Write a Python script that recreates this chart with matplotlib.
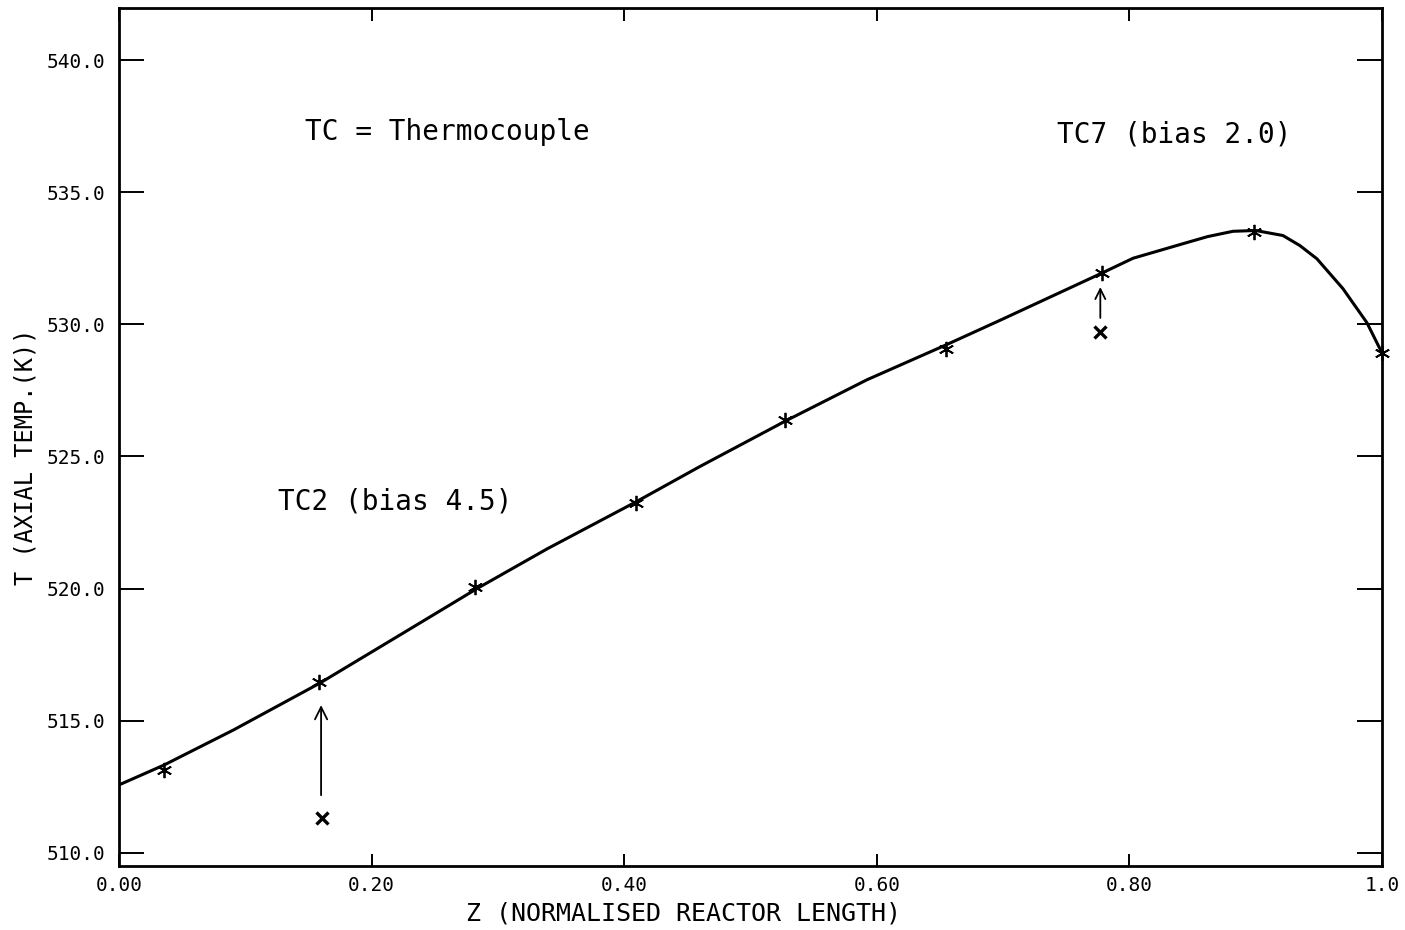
import matplotlib
matplotlib.use("Agg")
import matplotlib.pyplot as plt

# thermocouple readings along the reactor (corrected values)
z_tc = [0.036, 0.158, 0.282, 0.409, 0.527, 0.655, 0.778, 0.899, 1.0]
t_tc = [513.13, 516.46, 520.06, 523.24, 526.39, 529.06, 531.94, 533.50, 528.92]

# raw readings of TC2 and TC7 before the bias correction
z_raw = [0.161, 0.777]
t_raw = [511.31, 529.71]

# fitted axial temperature profile
z_fit = [0.0, 0.0356, 0.0903, 0.159, 0.2328, 0.2835, 0.3389, 0.4101, 0.46,
         0.5289, 0.5922, 0.6548, 0.6975, 0.7783, 0.8029, 0.8424, 0.862, 0.882,
         0.90, 0.9216, 0.935, 0.9485, 0.9691, 0.9881, 1.0]
t_fit = [512.57, 513.32, 514.64, 516.42, 518.54, 520.00, 521.50, 523.30, 524.62,
         526.37, 527.90, 529.22, 530.15, 531.94, 532.50, 533.05, 533.32, 533.52,
         533.55, 533.36, 532.98, 532.48, 531.35, 530.06, 528.92]

xticks = [0.0, 0.2, 0.4, 0.6, 0.8, 1.0]
xticklabels = ["0.00", "0.20", "0.40", "0.60", "0.80", "1.0"]
yticks = [510, 515, 520, 525, 530, 535, 540]

mono = "DejaVu Sans Mono"

fig = plt.figure(figsize=(14.05, 9.3), dpi=100)
ax = fig.add_axes([0.0847, 0.0688, 0.8989, 0.9223])

ax.plot(z_fit, t_fit, color="black", lw=2.2, solid_joinstyle="round")
ax.plot(z_tc, t_tc, ls="none", marker=(6, 2, 0), ms=11, mew=1.3,
        color="black", clip_on=False)
ax.plot(z_raw, t_raw, ls="none", marker="x", ms=8, mew=2.4, color="black")

# arrows from raw reading up to corrected value
ax.annotate("", xy=(0.16, 515.59), xytext=(0.16, 512.18),
            arrowprops=dict(arrowstyle="->", lw=1.3, color="black",
                            mutation_scale=22, shrinkA=0, shrinkB=0))
ax.annotate("", xy=(0.777, 531.41), xytext=(0.777, 530.24),
            arrowprops=dict(arrowstyle="->", lw=1.3, color="black",
                            mutation_scale=18, shrinkA=0, shrinkB=0))

ax.text(0.147, 537.28, "TC = Thermocouple", family=mono, fontsize=20,
        ha="left", va="center")
ax.text(0.743, 537.17, "TC7 (bias 2.0)", family=mono, fontsize=20,
        ha="left", va="center")
ax.text(0.126, 523.28, "TC2 (bias 4.5)", family=mono, fontsize=20,
        ha="left", va="center")

ax.set_xlim(0.0, 1.0)
ax.set_ylim(509.5, 541.96)
ax.set_xticks(xticks)
ax.set_xticklabels(xticklabels, family=mono, fontsize=14)
ax.set_yticks(yticks)
ax.set_yticklabels(["%.1f" % v for v in yticks], family=mono, fontsize=14)

ax.tick_params(axis="y", direction="in", length=18, width=1.4, pad=10,
               left=True, right=True)
ax.tick_params(axis="x", direction="in", length=9, width=1.4, pad=7,
               top=True, bottom=True)
for s in ax.spines.values():
    s.set_linewidth(2.0)

ax.set_xlabel("Z (NORMALISED REACTOR LENGTH)", family=mono, fontsize=18)
ax.set_ylabel("T (AXIAL TEMP.(K))", family=mono, fontsize=17)
ax.xaxis.set_label_coords(0.4466, -0.041)
ax.yaxis.set_label_coords(-0.0645, 0.477)

fig.savefig("out.png", dpi=100)
